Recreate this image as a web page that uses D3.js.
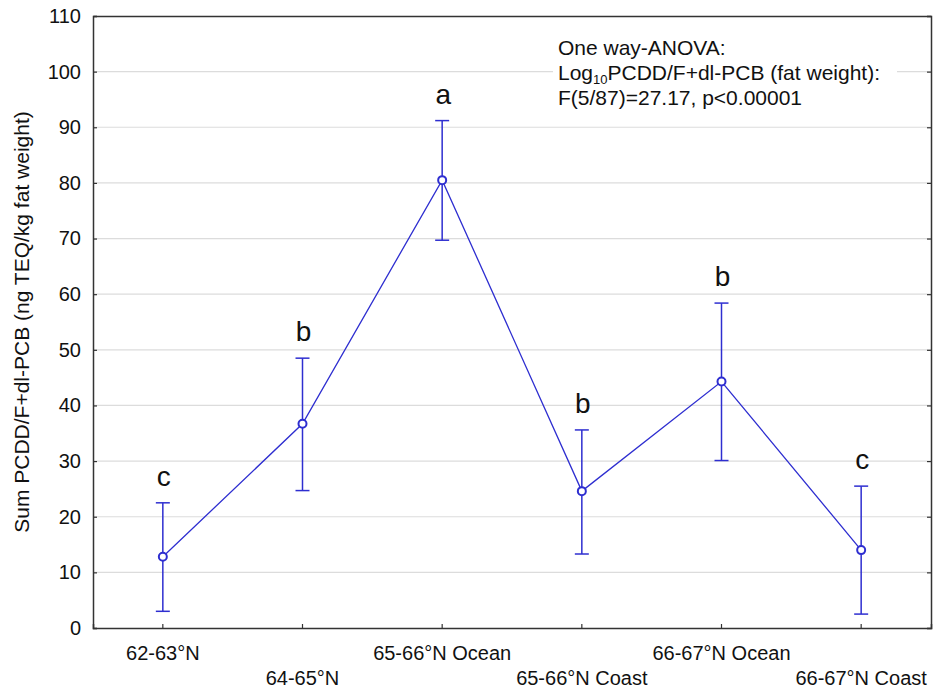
<!DOCTYPE html>
<html><head><meta charset="utf-8">
<script src="https://cdn.jsdelivr.net/npm/d3@7"></script>
<style>body{margin:0;background:#fff;} text{font-family:"Liberation Sans",Arial,sans-serif;}</style>
</head><body>
<svg id="c" width="935" height="691"></svg>
<script>
const categories = ["62-63°N","64-65°N","65-66°N Ocean","65-66°N Coast","66-67°N Ocean","66-67°N Coast"];
const means = [12.8, 36.7, 80.5, 24.6, 44.3, 14.0];
const lower = [3.0, 24.7, 69.7, 13.3, 30.1, 2.5];
const upper = [22.5, 48.5, 91.2, 35.6, 58.4, 25.5];
const letters = ["c","b","a","b","b","c"];
const yTicks = [0,10,20,30,40,50,60,70,80,90,100,110];

const svg = d3.select("#c");
const L = 93, R = 931, T = 16, B = 628;
const x = d3.scaleBand().domain(categories).range([L, R]);
const cx = d => x(d) + x.bandwidth()/2;
const y = d3.scaleLinear().domain([0,110]).range([B, T]);
const blue = "#2e2ed0";
const ink = "#111";

// grid
svg.append("g").selectAll("line").data(yTicks.filter(t => t>0 && t<110)).join("line")
  .attr("x1", L).attr("x2", R).attr("y1", d=>y(d)).attr("y2", d=>y(d))
  .attr("stroke", "#dcdcdc").attr("stroke-width", 1.2);

// annotation (with white background hiding gridline)
svg.append("rect").attr("x", 553).attr("y", 36).attr("width", 344).attr("height", 76).attr("fill", "#fff");
svg.append("text").attr("x", 558).attr("y", 55).attr("font-size", 21).attr("fill", ink).text("One way-ANOVA:");
const l2 = svg.append("text").attr("x", 558).attr("y", 80).attr("font-size", 21).attr("fill", ink);
l2.append("tspan").text("Log");
l2.append("tspan").attr("font-size", 13).attr("dy", 4).text("10");
l2.append("tspan").attr("dy", -4).text("PCDD/F+dl-PCB (fat weight):");
svg.append("text").attr("x", 558).attr("y", 105).attr("font-size", 21).attr("fill", ink).text("F(5/87)=27.17, p<0.00001");

// axes
const axL = svg.append("g").attr("transform", `translate(${L},0)`)
  .call(d3.axisLeft(y).tickValues(yTicks).tickSize(-4).tickPadding(12));
const axR = svg.append("g").attr("transform", `translate(${R},0)`)
  .call(d3.axisRight(y).tickValues(yTicks).tickSize(-4).tickFormat(""));
const axT = svg.append("g").attr("transform", `translate(0,${T})`)
  .call(d3.axisTop(x).tickSize(0).tickFormat(""));
const axB = svg.append("g").attr("transform", `translate(0,${B})`)
  .call(d3.axisBottom(x).tickSize(-4).tickFormat(""));
[axL, axR, axT, axB].forEach(a => {
  a.select(".domain").attr("stroke", "#333").attr("stroke-width", 1.5);
  a.selectAll(".tick line").attr("stroke", "#333").attr("stroke-width", 1.2);
});
axL.selectAll(".tick text").attr("font-size", 20).attr("fill", ink).attr("font-family", "Liberation Sans, Arial, sans-serif");

// x labels alternating rows
svg.append("g").selectAll("text").data(categories).join("text")
  .attr("x", d => cx(d)).attr("y", (d,i) => i%2===0 ? 660 : 685)
  .attr("text-anchor", "middle").attr("font-size", 20).attr("fill", ink).text(d => d);

// y label
svg.append("text").attr("transform", `translate(29,${(T+B)/2}) rotate(-90)`)
  .attr("text-anchor", "middle").attr("font-size", 21).attr("fill", ink)
  .text("Sum PCDD/F+dl-PCB (ng TEQ/kg fat weight)");

// error bars
const eb = svg.append("g").attr("stroke", blue).attr("stroke-width", 1.5);
categories.forEach((c,i) => {
  eb.append("line").attr("x1", cx(c)).attr("x2", cx(c)).attr("y1", y(lower[i])).attr("y2", y(upper[i]));
  eb.append("line").attr("x1", cx(c)-7).attr("x2", cx(c)+7).attr("y1", y(lower[i])).attr("y2", y(lower[i]));
  eb.append("line").attr("x1", cx(c)-7).attr("x2", cx(c)+7).attr("y1", y(upper[i])).attr("y2", y(upper[i]));
});

// line
svg.append("path").datum(means)
  .attr("d", d3.line().x((d,i) => cx(categories[i])).y(d => y(d)))
  .attr("fill", "none").attr("stroke", blue).attr("stroke-width", 1.3);

// markers
svg.append("g").selectAll("circle").data(means).join("circle")
  .attr("cx", (d,i) => cx(categories[i])).attr("cy", d => y(d)).attr("r", 4)
  .attr("fill", "#fff").attr("stroke", blue).attr("stroke-width", 2);

// letters
svg.append("g").selectAll("text").data(letters).join("text")
  .attr("x", (d,i) => cx(categories[i]) + 1).attr("y", (d,i) => y(upper[i]) - 17)
  .attr("text-anchor", "middle").attr("font-size", 28).attr("fill", ink).text(d => d);
</script>
</body></html>
